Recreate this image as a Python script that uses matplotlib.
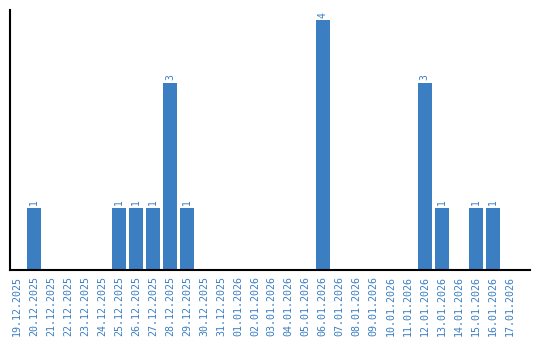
import matplotlib
matplotlib.use("Agg")
import matplotlib.pyplot as plt

# Data
dates = [
    "19.12.2025", "20.12.2025", "21.12.2025", "22.12.2025", "23.12.2025",
    "24.12.2025", "25.12.2025", "26.12.2025", "27.12.2025", "28.12.2025",
    "29.12.2025", "30.12.2025", "31.12.2025", "01.01.2026", "02.01.2026",
    "03.01.2026", "04.01.2026", "05.01.2026", "06.01.2026", "07.01.2026",
    "08.01.2026", "09.01.2026", "10.01.2026", "11.01.2026", "12.01.2026",
    "13.01.2026", "14.01.2026", "15.01.2026", "16.01.2026", "17.01.2026",
]
counts = [0, 1, 0, 0, 0, 0, 1, 1, 1, 3, 1, 0, 0, 0, 0,
          0, 0, 0, 4, 0, 0, 0, 0, 0, 3, 1, 0, 1, 1, 0]

blue = "#3b7ec2"

fig = plt.figure(figsize=(5.4, 3.4), dpi=100)
ax = fig.add_axes([10 / 540, 70 / 340, 520 / 540, 260 / 340])

x = range(len(dates))
ax.bar(x, counts, width=0.82, color=blue)

# value labels
for i, c in enumerate(counts):
    if c > 0:
        ax.text(i, c + 0.04, str(c), rotation=90, ha="center", va="bottom",
                color=blue, fontsize=7, family="DejaVu Sans Mono")

ax.set_xlim(-0.42, 30.2)
ax.set_ylim(0, 4.16)
ax.set_xticks(list(x))
ax.set_xticklabels(dates, rotation=90, color=blue, fontsize=7.2,
                   family="DejaVu Sans Mono")
ax.tick_params(axis="x", length=0, pad=4)
ax.set_yticks([])

ax.spines["top"].set_visible(False)
ax.spines["right"].set_visible(False)
ax.spines["left"].set_linewidth(1.5)
ax.spines["bottom"].set_linewidth(1.5)

fig.savefig("out.png", dpi=100)
